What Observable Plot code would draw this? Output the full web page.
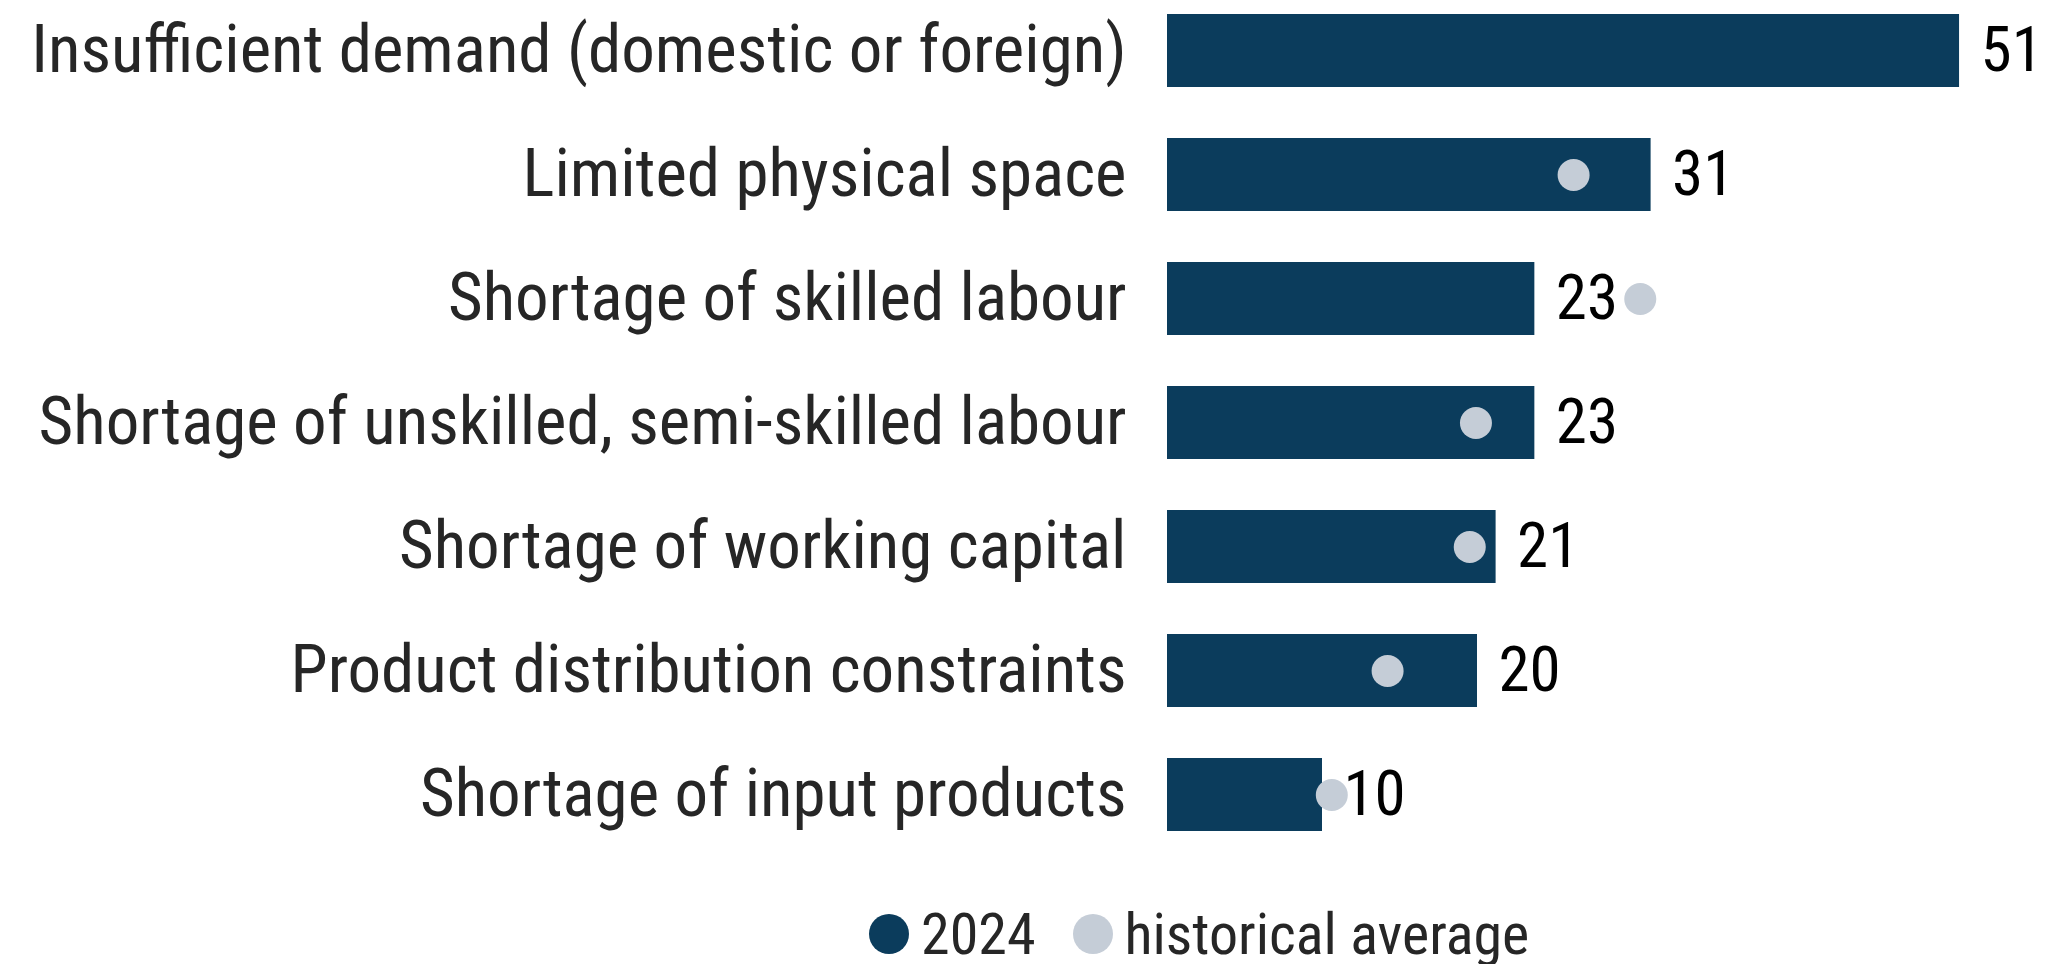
<!DOCTYPE html>
<html>
<head>
<meta charset="utf-8">
<script src="https://cdn.jsdelivr.net/npm/d3@7"></script>
<script src="https://cdn.jsdelivr.net/npm/@observablehq/plot@0.6"></script>
<style>
  html, body { margin: 0; padding: 0; background: #fff; }
  #chart { width: 2048px; }
  .legend { display: flex; align-items: center; margin-left: 869px; margin-top: 44px; height: 60px; line-height: 1; font-family: "Roboto Condensed", sans-serif; font-size: 58px; color: #262626; }
  .sw { width: 40px; height: 40px; border-radius: 50%; display: inline-block; margin-right: 12px; flex: none; }
</style>
</head>
<body>
<div id="chart"></div>
<div class="legend">
  <span class="sw" style="background:#0b3c5c"></span><span>2024</span>
  <span class="sw" style="background:#c5cdd7; margin-left:37px"></span><span>historical average</span>
</div>
<script>
const categories = [
  "Insufficient demand (domestic or foreign)",
  "Limited physical space",
  "Shortage of skilled labour",
  "Shortage of unskilled, semi-skilled labour",
  "Shortage of working capital",
  "Product distribution constraints",
  "Shortage of input products"
];
const values2024 = [51.1, 31.2, 23.7, 23.7, 21.2, 20, 10];
const valueLabels = ["51", "31", "23", "23", "21", "20", "10"];
const historical = [null, 26.2, 30.5, 19.9, 19.5, 14.2, 10.6];

const rows = categories.map((c, i) => ({category: c, value: values2024[i], label: valueLabels[i], hist: historical[i]}));

const chart = Plot.plot({
  width: 2048,
  height: 860,
  marginLeft: 1167,
  marginRight: 13,
  marginTop: 1,
  marginBottom: 15,
  style: {fontFamily: "'Roboto Condensed', sans-serif", background: "#fff"},
  x: {domain: [0, 56], axis: null},
  y: {domain: categories, paddingInner: 0.41, paddingOuter: 0.1, label: null},
  marks: [
    Plot.barX(rows, {x: "value", y: "category", fill: "#0b3c5c"}),
    Plot.dot(rows.filter(d => d.hist != null), {x: "hist", y: "category", r: 16, fill: "#c5cdd7"}),
    Plot.text(rows, {x: "value", y: "category", text: "label", textAnchor: "start", dx: 21, fontSize: 63, fill: "#000"}),
    Plot.axisY({tickSize: 0, tickPadding: 41, fontSize: 67, color: "#262626", label: null})
  ]
});
document.getElementById("chart").appendChild(chart);
</script>
</body>
</html>
